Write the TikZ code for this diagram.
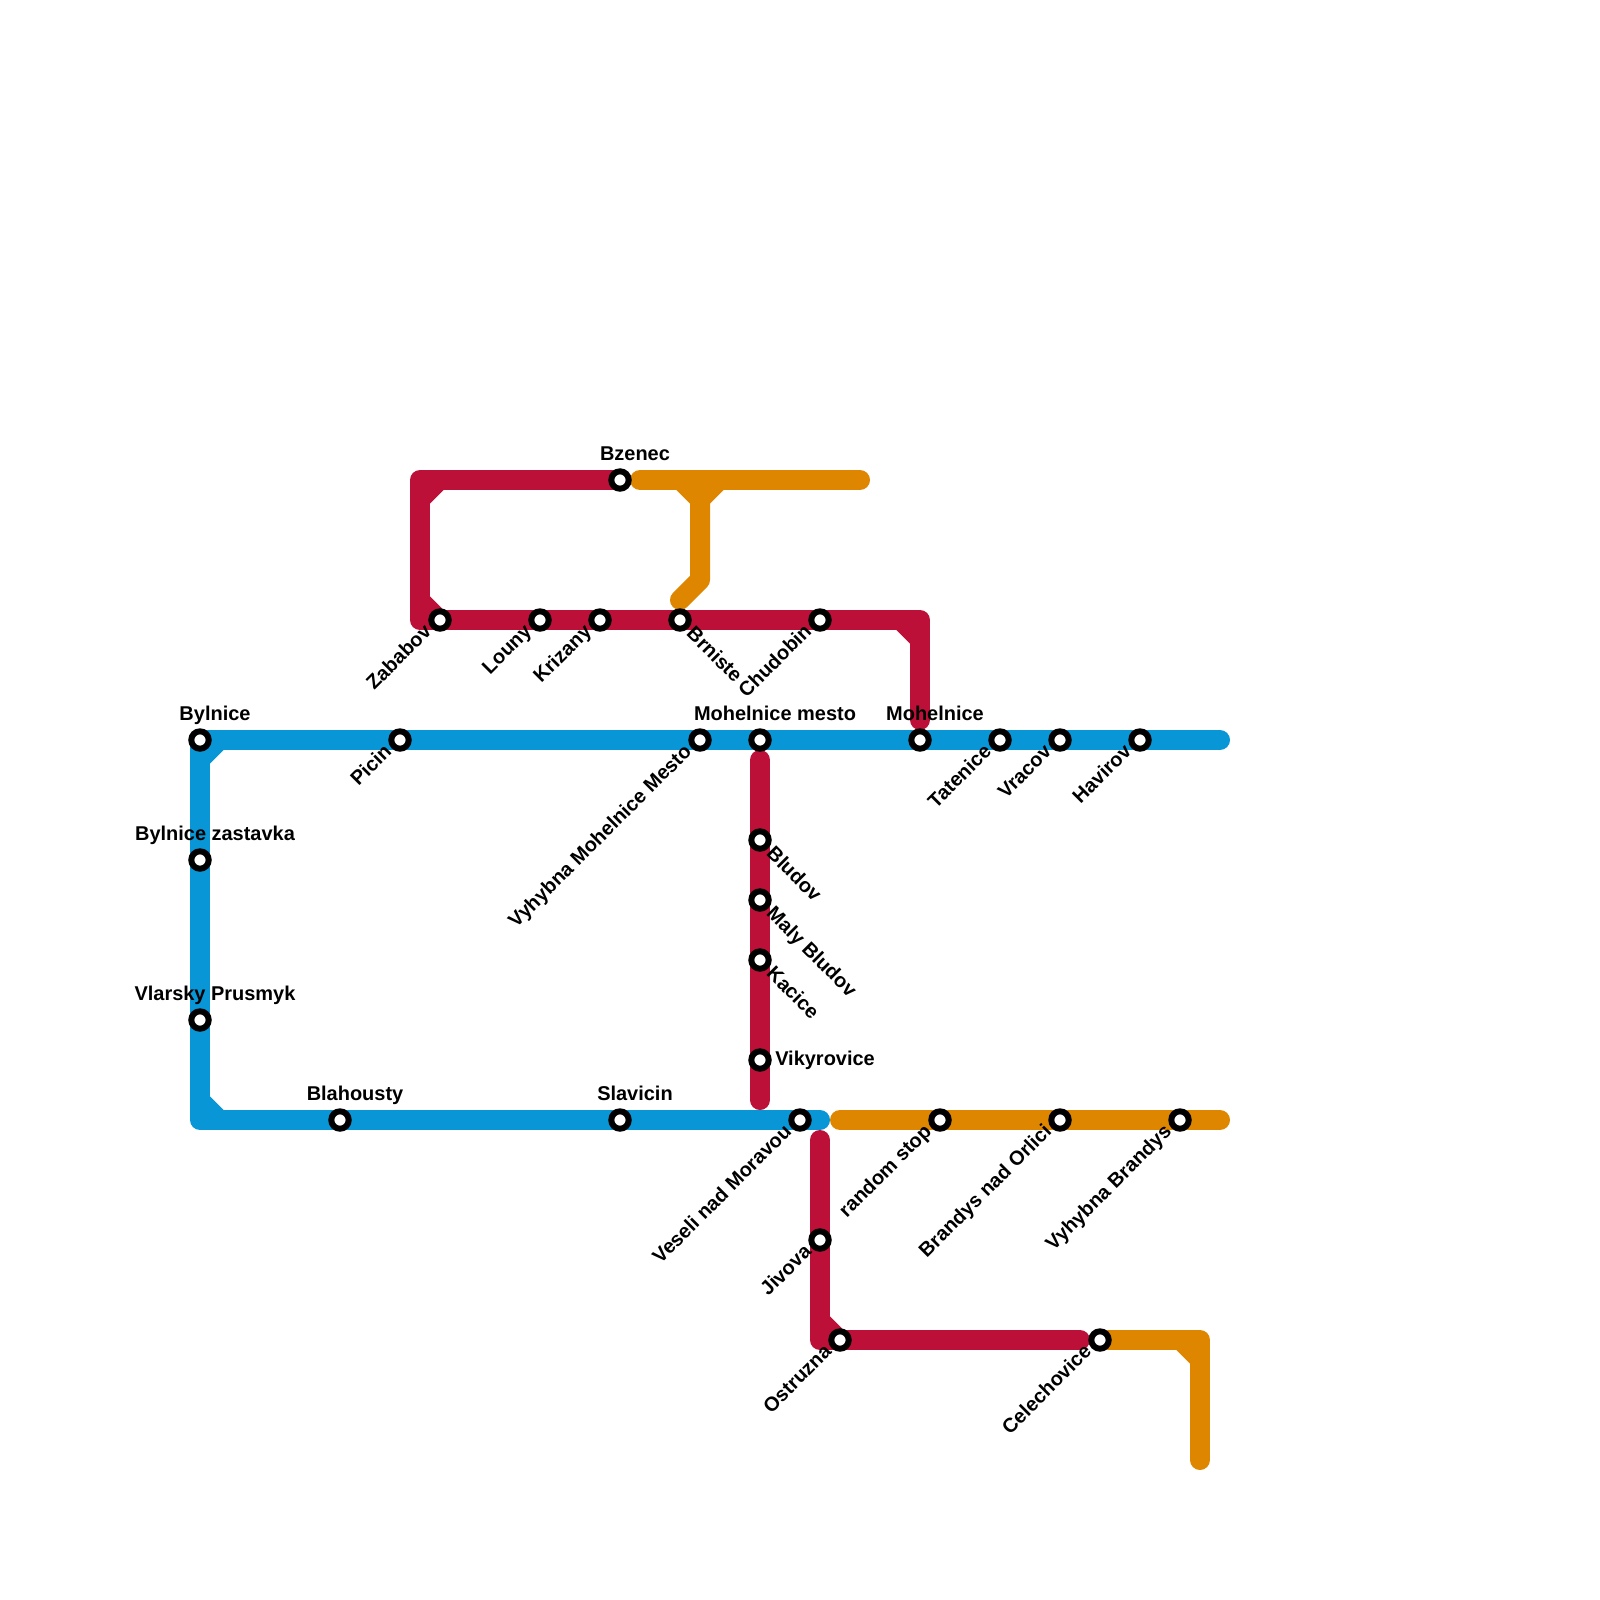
\documentclass[tikz,border=0pt]{standalone}
\usepackage{fontspec}
\setmainfont{Liberation Sans}
\usetikzlibrary{backgrounds}
\definecolor{bluetrack}{HTML}{0896D7}
\definecolor{redtrack}{HTML}{BD1038}
\definecolor{orangetrack}{HTML}{DF8600}
\begin{document}
\begin{tikzpicture}[
    x=0.5cm, y=-0.5cm,
    stop/.style={circle, draw=black, fill=white, line width=0.15cm, minimum size=0.435cm, inner sep=0pt, outer sep=0pt},
    stoptext/.style={font=\bfseries\fontsize{14.2}{16}\selectfont, inner sep=0pt, text=black},
    uptext/.style={stoptext, anchor=base},
    lowleft/.style={stoptext, anchor=mid east, rotate=45},
    lowright/.style={stoptext, anchor=mid west, rotate=-45},
    sidetext/.style={stoptext, anchor=mid west},
    track/.style={line width=0.5cm, line cap=round, line join=round},
    chamfer/.style={line width=0.5cm, line cap=butt},
]
    \useasboundingbox (0,0) rectangle (80,80);

    % Blue line stops
    \node[stop] (bylnice) at (10,37) {};
    \node[uptext] (bylnicetext) at (10.75,36) {Bylnice};
    \node[stop] (picin) at (20,37) {};
    \node[lowleft] (picintext) at (19.5,37.5) {Picin};
    \node[stop] (vyhybnamesto) at (35,37) {};
    \node[lowleft] (vyhybnamestotext) at (34.5,37.5) {Vyhybna Mohelnice Mesto};
    \node[stop] (mohelnicemesto) at (38,37) {};
    \node[uptext] (mohelnicemestotext) at (38.75,36) {Mohelnice mesto};
    \node[stop] (mohelnice) at (46,37) {};
    \node[uptext] (mohelnicetext) at (46.75,36) {Mohelnice};
    \node[stop] (tatenice) at (50,37) {};
    \node[lowleft] (tatenicetext) at (49.5,37.5) {Tatenice};
    \node[stop] (vracov) at (53,37) {};
    \node[lowleft] (vracovtext) at (52.5,37.5) {Vracov};
    \node[stop] (havirov) at (57,37) {};
    \node[lowleft] (havirovtext) at (56.5,37.5) {Havirov};
    \node[stop] (zastavka) at (10,43) {};
    \node[uptext] (zastavkatext) at (10.75,42) {Bylnice zastavka};
    \node[stop] (prusmyk) at (10,51) {};
    \node[uptext] (prusmyktext) at (10.75,50) {Vlarsky Prusmyk};
    \node[stop] (blahousty) at (17,56) {};
    \node[uptext] (blahoustytext) at (17.75,55) {Blahousty};
    \node[stop] (slavicin) at (31,56) {};
    \node[uptext] (slavicintext) at (31.75,55) {Slavicin};
    \node[stop] (veseli) at (40,56) {};
    \node[lowleft] (veselitext) at (39.5,56.5) {Veseli nad Moravou};

    % Upper red line stops
    \node[stop] (bzenec) at (31,24) {};
    \node[uptext] (bzenectext) at (31.75,23) {Bzenec};
    \node[stop] (zababov) at (22,31) {};
    \node[lowleft] (zababovtext) at (21.5,31.5) {Zababov};
    \node[stop] (louny) at (27,31) {};
    \node[lowleft] (lounytext) at (26.5,31.5) {Louny};
    \node[stop] (krizany) at (30,31) {};
    \node[lowleft] (krizanytext) at (29.5,31.5) {Krizany};
    \node[stop] (brniste) at (34,31) {};
    \node[lowright] (brnistetext) at (34.4,31.6) {Brniste};
    \node[stop] (chudobin) at (41,31) {};
    \node[lowleft] (chudobintext) at (40.5,31.5) {Chudobin};

    % Middle red line stops
    \node[stop] (bludov) at (38,42) {};
    \node[lowright] (bludovtext) at (38.4,42.6) {Bludov};
    \node[stop] (malybludov) at (38,45) {};
    \node[lowright] (malybludovtext) at (38.4,45.6) {Maly Bludov};
    \node[stop] (kacice) at (38,48) {};
    \node[lowright] (kacicetext) at (38.4,48.6) {Kacice};
    \node[stop] (vikyrovice) at (38,53) {};
    \node[sidetext] (vikyrovicetext) at (38.75,53.1) {Vikyrovice};

    % Lower red line stops
    \node[stop] (jivova) at (41,62) {};
    \node[lowleft] (jivovatext) at (40.5,62.5) {Jivova};
    \node[stop] (ostruzna) at (42,67) {};
    \node[lowleft] (ostruznatext) at (41.5,67.5) {Ostruzna};
    \node[stop] (celechovice) at (55,67) {};
    \node[lowleft] (celechovicetext) at (54.5,67.5) {Celechovice};

    % Orange line stops
    \node[stop] (randomstop) at (47,56) {};
    \node[lowleft] (randomstoptext) at (46.5,56.5) {random stop};
    \node[stop] (brandys) at (53,56) {};
    \node[lowleft] (brandystext) at (52.5,56.5) {Brandys nad Orlici};
    \node[stop] (vyhybnabrandys) at (59,56) {};
    \node[lowleft] (vyhybnabrandystext) at (58.5,56.5) {Vyhybna Brandys};

    % Free ends and bends
    \coordinate (blueeast) at (61,37);
    \coordinate (bluecorner) at (10,56);
    \coordinate (blueend) at (41,56);
    \coordinate (redtop) at (21,24);
    \coordinate (redleft) at (21,31);
    \coordinate (redright) at (46,31);
    \coordinate (redend) at (46,36);
    \coordinate (midtop) at (38,38);
    \coordinate (midend) at (38,55);
    \coordinate (lowtop) at (41,57);
    \coordinate (lowcorner) at (41,67);
    \coordinate (lowend) at (54,67);
    \coordinate (orangewest) at (32,24);
    \coordinate (orangefork) at (35,24);
    \coordinate (orangeeast) at (43,24);
    \coordinate (orangebend) at (35,29);
    \coordinate (orangefoot) at (34,30);
    \coordinate (lowerwest) at (42,56);
    \coordinate (lowereast) at (61,56);
    \coordinate (hookcorner) at (60,67);
    \coordinate (hookend) at (60,73);

    \begin{scope}[on background layer]
        % Blue line
        \draw[track, bluetrack] (blueeast) -- (havirov.center) -- (vracov.center) -- (tatenice.center) -- (mohelnice.center) -- (mohelnicemesto.center) -- (vyhybnamesto.center) -- (picin.center) -- (bylnice.center) -- (zastavka.center) -- (prusmyk.center) -- (bluecorner) -- (blahousty.center) -- (slavicin.center) -- (veseli.center) -- (blueend);
        \draw[chamfer, bluetrack] (bylnice.center) -- +(0.84,0.84);
        \draw[chamfer, bluetrack] (bluecorner) -- +(0.84,-0.84);

        % Upper red line
        \draw[track, redtrack] (bzenec.center) -- (redtop) -- (redleft) -- (zababov.center) -- (louny.center) -- (krizany.center) -- (brniste.center) -- (chudobin.center) -- (redright) -- (redend);
        \draw[chamfer, redtrack] (redtop) -- +(0.84,0.84);
        \draw[chamfer, redtrack] (redleft) -- +(0.84,-0.84);
        \draw[chamfer, redtrack] (redright) -- +(-0.84,0.84);

        % Middle red line
        \draw[track, redtrack] (midtop) -- (bludov.center) -- (malybludov.center) -- (kacice.center) -- (vikyrovice.center) -- (midend);

        % Lower red line
        \draw[track, redtrack] (lowtop) -- (jivova.center) -- (lowcorner) -- (ostruzna.center) -- (lowend);
        \draw[chamfer, redtrack] (lowcorner) -- +(0.84,-0.84);

        % Orange lines
        \draw[track, orangetrack] (orangewest) -- (orangeeast);
        \draw[track, orangetrack] (orangefork) -- (orangebend) -- (orangefoot);
        \draw[chamfer, orangetrack] (orangefork) -- +(-0.84,0.84);
        \draw[chamfer, orangetrack] (orangefork) -- +(0.84,0.84);
        \draw[track, orangetrack] (lowerwest) -- (randomstop.center) -- (brandys.center) -- (vyhybnabrandys.center) -- (lowereast);
        \draw[track, orangetrack] (celechovice.center) -- (hookcorner) -- (hookend);
        \draw[chamfer, orangetrack] (hookcorner) -- +(-0.84,0.84);
    \end{scope}
\end{tikzpicture}
\end{document}
